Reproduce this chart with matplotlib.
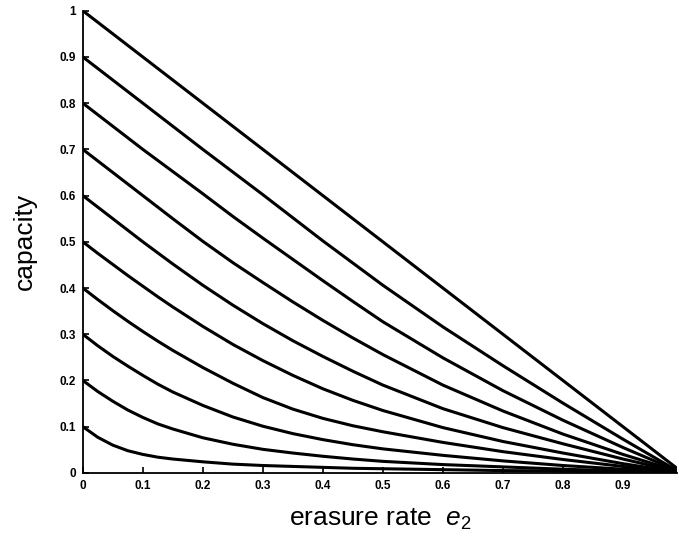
import matplotlib
matplotlib.use('Agg')
import matplotlib.pyplot as plt

# Valores: capacidade vs taxa de apagamento e2
# uma curva para cada capacidade inicial (e2 = 0)
e2 = [0, 0.025, 0.05, 0.075, 0.1, 0.125, 0.15, 0.2, 0.25, 0.3, 0.35, 0.4, 0.45, 0.5,
      0.6, 0.7, 0.8, 0.9, 0.99]

cap_10 = [1.0, 0.975, 0.95, 0.925, 0.90, 0.875, 0.85, 0.80, 0.75, 0.70, 0.65, 0.60, 0.55, 0.50,
          0.40, 0.30, 0.20, 0.10, 0.01]
cap_09 = [0.9, 0.875, 0.85, 0.825, 0.80, 0.775, 0.75, 0.70, 0.651, 0.602, 0.552, 0.502, 0.454, 0.406,
          0.316, 0.232, 0.151, 0.073, 0.005]
cap_08 = [0.8, 0.775, 0.75, 0.725, 0.70, 0.676, 0.652, 0.604, 0.555, 0.508, 0.462, 0.416, 0.371, 0.327,
          0.249, 0.178, 0.114, 0.055, 0.005]
cap_07 = [0.7, 0.675, 0.65, 0.625, 0.60, 0.575, 0.55, 0.501, 0.455, 0.412, 0.370, 0.330, 0.292, 0.256,
          0.19, 0.134, 0.084, 0.04, 0.004]
cap_06 = [0.6, 0.575, 0.55, 0.525, 0.50, 0.476, 0.452, 0.406, 0.363, 0.323, 0.286, 0.252, 0.22, 0.19,
          0.139, 0.098, 0.063, 0.03, 0.003]
cap_05 = [0.5, 0.475, 0.451, 0.427, 0.404, 0.381, 0.359, 0.317, 0.278, 0.243, 0.211, 0.182, 0.157, 0.135,
          0.098, 0.068, 0.043, 0.02, 0.002]
cap_04 = [0.4, 0.375, 0.351, 0.328, 0.306, 0.285, 0.265, 0.228, 0.194, 0.163, 0.138, 0.118, 0.102, 0.089,
          0.066, 0.046, 0.029, 0.014, 0.001]
cap_03 = [0.3, 0.275, 0.252, 0.231, 0.211, 0.192, 0.175, 0.146, 0.121, 0.101, 0.085, 0.072, 0.061, 0.052,
          0.038, 0.026, 0.016, 0.008, 0.001]
cap_02 = [0.2, 0.176, 0.155, 0.136, 0.12, 0.106, 0.095, 0.076, 0.062, 0.051, 0.043, 0.036, 0.03, 0.025,
          0.018, 0.013, 0.008, 0.004, 0.0]
cap_01 = [0.1, 0.077, 0.06, 0.048, 0.040, 0.034, 0.030, 0.024, 0.019, 0.016, 0.014, 0.012, 0.010, 0.009,
          0.007, 0.005, 0.004, 0.002, 0.0]

curvas = [cap_10, cap_09, cap_08, cap_07, cap_06, cap_05, cap_04, cap_03, cap_02, cap_01]

xticks = [0, 0.1, 0.2, 0.3, 0.4, 0.5, 0.6, 0.7, 0.8, 0.9]
xtick_labels = ['0', '0.1', '0.2', '0.3', '0.4', '0.5', '0.6', '0.7', '0.8', '0.9']
yticks = [0, 0.1, 0.2, 0.3, 0.4, 0.5, 0.6, 0.7, 0.8, 0.9, 1.0]
ytick_labels = ['0', '0.1', '0.2', '0.3', '0.4', '0.5', '0.6', '0.7', '0.8', '0.9', '1']

plt.rcParams['font.family'] = ['Liberation Sans', 'DejaVu Sans']
plt.rcParams['mathtext.fontset'] = 'custom'
plt.rcParams['mathtext.rm'] = 'Liberation Sans'
plt.rcParams['mathtext.it'] = 'Liberation Sans:italic'

fig = plt.figure(figsize=(6.79, 5.38), dpi=100)
ax = fig.add_axes([0.122, 0.121, 0.875, 0.859])

for c in curvas:
    ax.plot(e2, c, color='black', linewidth=2.2, solid_joinstyle='round')

ax.set_xlim(0, 0.99)
ax.set_ylim(0, 1)
ax.spines['top'].set_visible(False)
ax.spines['right'].set_visible(False)
ax.spines['left'].set_linewidth(1.3)
ax.spines['bottom'].set_linewidth(1.3)

ax.set_xticks(xticks)
ax.set_xticklabels(xtick_labels, fontweight='bold', fontsize=8.5)
ax.set_yticks(yticks)
ax.set_yticklabels(ytick_labels, fontweight='bold', fontsize=8.5)
ax.tick_params(direction='in', length=4, width=1.2, pad=5)

ax.set_xlabel(r'erasure rate  $e_{\mathit{2}}$', fontsize=19, labelpad=11)
ax.set_ylabel('capacity', fontsize=19, labelpad=16)

plt.savefig('out.png', dpi=100)
